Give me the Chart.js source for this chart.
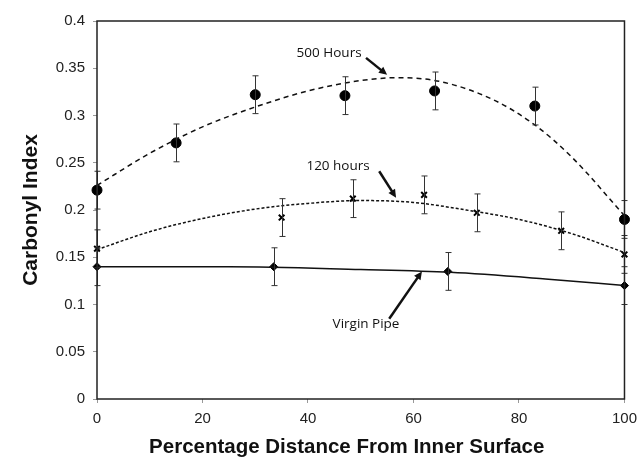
<!DOCTYPE html>
<html>
<head>
<meta charset="utf-8">
<script src="https://cdn.jsdelivr.net/npm/chart.js@4/dist/chart.umd.min.js"></script>
<style>
  html, body { margin: 0; padding: 0; background: #fff; }
  #wrap { width: 644px; height: 463px; }
</style>
</head>
<body>
<div id="wrap"><canvas id="c" width="644" height="463"></canvas></div>
<script>
  // measured points (x = % distance from inner surface)
  const x500 = [0, 15, 30, 47, 64, 83, 100];
  const y500 = [0.221, 0.271, 0.322, 0.321, 0.326, 0.310, 0.190];
  const err500 = [0.02, 0.02, 0.02, 0.02, 0.02, 0.02, 0.02];

  const x120 = [0, 35, 48.5, 62, 72, 88, 100];
  const y120 = [0.159, 0.192, 0.212, 0.216, 0.197, 0.178, 0.153];
  const err120 = [0.02, 0.02, 0.02, 0.02, 0.02, 0.02, 0.02];

  const xVirgin = [0, 33.5, 66.5, 100];
  const yVirgin = [0.140, 0.140, 0.135, 0.120];
  const errVirgin = [0.02, 0.02, 0.02, 0.02];

  // trend lines
  const trend500X = [0, 10, 20, 30, 40, 50, 57, 65, 75, 83, 90, 100];
  const trend500Y = [0.226, 0.260, 0.288, 0.309, 0.326, 0.337, 0.340, 0.336, 0.317, 0.290, 0.256, 0.194];
  const trend120X = [0, 10, 20, 30, 40, 50, 60, 70, 80, 90, 100];
  const trend120Y = [0.158, 0.177, 0.191, 0.201, 0.207, 0.210, 0.208, 0.200, 0.190, 0.175, 0.155];
  const trendVirginX = [0, 25, 50, 67, 85, 100];
  const trendVirginY = [0.140, 0.140, 0.137, 0.134, 0.127, 0.120];

  const xTicks = [0, 20, 40, 60, 80, 100];
  const yTicks = [0, 0.05, 0.1, 0.15, 0.2, 0.25, 0.3, 0.35, 0.4];
  const xTitle = 'Percentage Distance From Inner Surface';

  // annotations: label, text position, arrow start, arrow end (data units)
  const labels = [
    { text: '500 Hours', at: [44.0, 0.366], from: [51.0, 0.361], to: [55.0, 0.343] },
    { text: '120 hours', at: [45.7, 0.246], from: [53.5, 0.241], to: [56.7, 0.213] },
    { text: 'Virgin Pipe', at: [51.0, 0.079], from: [55.4, 0.085], to: [61.6, 0.135] }
  ];

  const pts = (xs, ys) => xs.map((x, i) => ({ x, y: ys[i] }));

  const FONT = '"Liberation Sans", Arial, sans-serif';

  const errorBars = {
    id: 'errorBars',
    afterDatasetsDraw(chart) {
      const { ctx, scales: { x, y } } = chart;
      const sets = [[x500, y500, err500], [x120, y120, err120], [xVirgin, yVirgin, errVirgin]];
      ctx.save();
      ctx.strokeStyle = '#333';
      ctx.lineWidth = 1;
      sets.forEach(([xs, ys, es]) => {
        xs.forEach((xv, i) => {
          const px = Math.round(x.getPixelForValue(xv)) + 0.5;
          const top = y.getPixelForValue(ys[i] + es[i]);
          const bot = y.getPixelForValue(ys[i] - es[i]);
          ctx.beginPath();
          ctx.moveTo(px, top); ctx.lineTo(px, bot);
          ctx.moveTo(px - 3, top); ctx.lineTo(px + 3, top);
          ctx.moveTo(px - 3, bot); ctx.lineTo(px + 3, bot);
          ctx.stroke();
        });
      });
      ctx.restore();
    }
  };

  const frameAndNotes = {
    id: 'frameAndNotes',
    afterDraw(chart) {
      const { ctx, chartArea: a, scales: { x, y } } = chart;
      ctx.save();
      ctx.strokeStyle = '#222';
      ctx.lineWidth = 1.5;
      ctx.strokeRect(a.left, a.top, a.right - a.left, a.bottom - a.top);

      // x title sits a little left of the plot centre in the original
      ctx.fillStyle = '#111';
      ctx.font = 'bold 20.5px ' + FONT;
      ctx.textAlign = 'center';
      ctx.textBaseline = 'middle';
      ctx.fillText(xTitle, (a.left + a.right) / 2 - 14, 447);

      ctx.strokeStyle = '#111';
      ctx.font = '13.5px "Open Sans", ' + FONT;
      labels.forEach(l => {
        ctx.fillText(l.text, x.getPixelForValue(l.at[0]), y.getPixelForValue(l.at[1]));
        const x1 = x.getPixelForValue(l.from[0]), y1 = y.getPixelForValue(l.from[1]);
        const x2 = x.getPixelForValue(l.to[0]), y2 = y.getPixelForValue(l.to[1]);
        const ang = Math.atan2(y2 - y1, x2 - x1);
        ctx.lineWidth = 2.5;
        ctx.beginPath();
        ctx.moveTo(x1, y1);
        ctx.lineTo(x2 - 6 * Math.cos(ang), y2 - 6 * Math.sin(ang));
        ctx.stroke();
        ctx.beginPath();
        ctx.moveTo(x2, y2);
        ctx.lineTo(x2 - 9 * Math.cos(ang - 0.45), y2 - 9 * Math.sin(ang - 0.45));
        ctx.lineTo(x2 - 9 * Math.cos(ang + 0.45), y2 - 9 * Math.sin(ang + 0.45));
        ctx.closePath();
        ctx.fill();
      });
      ctx.restore();
    }
  };

  new Chart(document.getElementById('c'), {
    type: 'scatter',
    data: {
      datasets: [
        {
          label: '500 Hours trend', type: 'line', data: pts(trend500X, trend500Y),
          borderColor: '#111', borderWidth: 1.5, borderDash: [5, 4], pointRadius: 0,
          cubicInterpolationMode: 'monotone', fill: false
        },
        {
          label: '120 hours trend', type: 'line', data: pts(trend120X, trend120Y),
          borderColor: '#111', borderWidth: 1.5, borderDash: [3, 2], pointRadius: 0,
          cubicInterpolationMode: 'monotone', fill: false
        },
        {
          label: 'Virgin Pipe trend', type: 'line', data: pts(trendVirginX, trendVirginY),
          borderColor: '#111', borderWidth: 1.5, pointRadius: 0,
          cubicInterpolationMode: 'monotone', fill: false
        },
        {
          label: '500 Hours', data: pts(x500, y500),
          pointStyle: 'circle', pointRadius: 5, backgroundColor: '#000', borderColor: '#000'
        },
        {
          label: '120 hours', data: pts(x120, y120),
          pointStyle: 'crossRot', pointRadius: 4, borderWidth: 2, borderColor: '#000'
        },
        {
          label: 'Virgin Pipe', data: pts(xVirgin, yVirgin),
          pointStyle: 'rectRot', pointRadius: 4, backgroundColor: '#000', borderColor: '#000'
        }
      ]
    },
    options: {
      responsive: false,
      animation: false,
      clip: false,
      layout: { padding: { top: 21, right: 18, left: 19, bottom: 0 } },
      plugins: { legend: { display: false }, tooltip: { enabled: false } },
      scales: {
        x: {
          type: 'linear', min: 0, max: 100,
          afterBuildTicks: s => { s.ticks = xTicks.map(v => ({ value: v })); },
          afterFit: s => { s.height = 64; },
          border: { display: false },
          grid: { drawOnChartArea: false, tickLength: 4, color: '#999' },
          ticks: { color: '#222', font: { family: FONT, size: 15 }, padding: 7, maxRotation: 0 },
          title: { display: false }
        },
        y: {
          type: 'linear', min: 0, max: 0.4,
          afterBuildTicks: s => { s.ticks = yTicks.map(v => ({ value: v })); },
          afterFit: s => { s.width = 78; },
          border: { display: false },
          grid: { drawOnChartArea: false, tickLength: 4, color: '#999' },
          ticks: {
            color: '#222', font: { family: FONT, size: 15 }, padding: 8,
            callback: v => String(+v.toFixed(2))
          },
          title: {
            display: true, text: 'Carbonyl Index', color: '#111',
            font: { family: FONT, size: 21, weight: 'bold' }, padding: { top: 0, bottom: 0 }
          }
        }
      }
    },
    plugins: [errorBars, frameAndNotes]
  });
</script>
</body>
</html>
